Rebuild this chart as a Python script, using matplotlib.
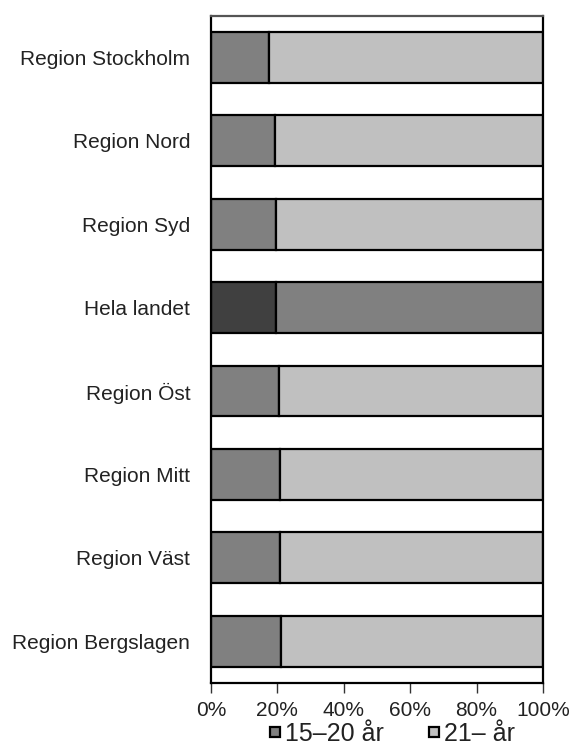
import matplotlib
matplotlib.use("Agg")
import matplotlib.pyplot as plt
from matplotlib.lines import Line2D
import numpy as np

plt.rcParams['font.family'] = ['Liberation Sans', 'DejaVu Sans']

categories = ["Region Stockholm", "Region Nord", "Region Syd", "Hela landet",
              "Region Öst", "Region Mitt", "Region Väst", "Region Bergslagen"]
share_15_20 = [17.6, 19.2, 19.7, 19.7, 20.4, 20.8, 20.8, 21.2]
share_21 = [82.4, 80.8, 80.3, 80.3, 79.6, 79.2, 79.2, 78.8]
series_labels = ["15\u201320 år", "21\u2013 år"]
xticks = [0, 20, 40, 60, 80, 100]
xtick_labels = ["0%", "20%", "40%", "60%", "80%", "100%"]

c1 = ["#404040" if c == "Hela landet" else "#808080" for c in categories]
c2 = ["#808080" if c == "Hela landet" else "#c0c0c0" for c in categories]

fig = plt.figure(figsize=(5.74, 7.47), dpi=100)
ax = fig.add_axes([211/574, 1-683/747, (543-211)/574, (683-15.5)/747])

y = np.arange(len(categories))
ax.barh(y, share_15_20, height=0.61, color=c1, edgecolor="black", linewidth=1.6)
ax.barh(y, share_21, left=share_15_20, height=0.61, color=c2, edgecolor="black", linewidth=1.6)

ax.set_xlim(0, 100)
ax.set_ylim(len(categories) - 0.5, -0.5)
ax.set_yticks(y)
ax.set_yticklabels(categories, fontsize=15, color="#222222")
ax.set_xticks(xticks)
ax.set_xticklabels(xtick_labels, fontsize=15, color="#222222")
ax.tick_params(axis='y', length=0, pad=15)
ax.tick_params(axis='x', length=7, width=1, pad=6, color="#333333")
for s in ax.spines.values():
    s.set_linewidth(1.6)
    s.set_color("black")
ax.spines['top'].set_color("#555555")

handles = [Line2D([], [], linestyle='none', marker='s', markersize=7,
                  markerfacecolor=col, markeredgecolor='black', markeredgewidth=1.6)
           for col in ["#808080", "#c0c0c0"]]
leg = fig.legend(handles, series_labels, loc='center', bbox_to_anchor=(392/574, 1-734/747),
                 ncol=2, frameon=False, fontsize=18, handlelength=0.5, handletextpad=0.15,
                 columnspacing=1.75, borderpad=0)
for t in leg.get_texts():
    t.set_color("#222222")

fig.savefig("out.png", dpi=100)
